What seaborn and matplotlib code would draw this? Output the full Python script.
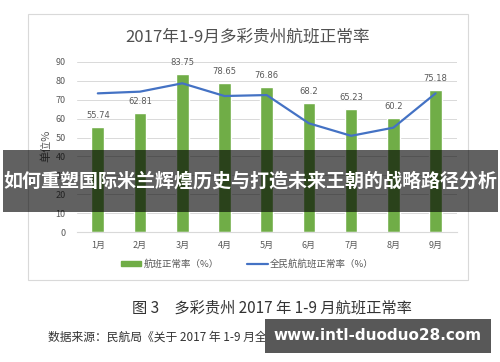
import matplotlib
matplotlib.use("Agg")
import matplotlib.pyplot as plt
import matplotlib.patches as mpatches
from matplotlib.lines import Line2D
import seaborn as sns
import pandas as pd

months = ["1月", "2月", "3月", "4月", "5月", "6月", "7月", "8月", "9月"]
guizhou = [55.74, 62.81, 83.75, 78.65, 76.86, 68.2, 65.23, 60.2, 75.18]
national = [73.3, 74.2, 78.6, 71.9, 72.4, 57.5, 50.9, 55.2, 73.3]
yticks = [0, 10, 20, 30, 40, 50, 60, 70, 80, 90]

title = "2017年1-9月多彩贵州航班正常率"
ylabel = "单位%"
legend_bar = "航班正常率（%）"
legend_line = "全民航航班正常率（%）"
caption = "图 3　多彩贵州 2017 年 1-9 月航班正常率"
source = "数据来源：民航局《关于 2017 年 1-9 月全国航班正常情况的通报》"
banner = "如何重塑国际米兰辉煌历史与打造未来王朝的战略路径分析"
watermark = "www.intl-duoduo28.com"

sns.set_style("white")
plt.rcParams['font.family'] = ['Noto Sans CJK SC', 'DejaVu Sans']

GREEN = "#70ad47"
BLUE = "#4472c4"
GRAY = "#595959"

W, H = 500, 362
fig = plt.figure(figsize=(W / 100, H / 100), dpi=100)
fig.patch.set_facecolor("white")

def fx(px):
    return px / W

def fy(py):
    return 1 - py / H

# chart frame
frame = mpatches.Rectangle((fx(28), fy(280)), fx(468) - fx(28), fy(14) - fy(280),
                           transform=fig.transFigure, facecolor="white",
                           edgecolor="#d9d9d9", linewidth=0.8, zorder=0)
fig.add_artist(frame)

ax = fig.add_axes([fx(76.7), fy(232.3), fx(456.7) - fx(76.7), fy(61.7) - fy(232.3)])
ax.set_facecolor("none")

df = pd.DataFrame({"month": months, "guizhou": guizhou, "national": national})
sns.barplot(data=df, x="month", y="guizhou", color=GREEN, width=0.3,
            saturation=1, ax=ax, zorder=2)
sns.lineplot(data=df, x="month", y="national", color=BLUE, linewidth=1.6,
             sort=False, ax=ax, zorder=3)

for cont in ax.containers:
    ax.bar_label(cont, labels=[f"{v:g}" for v in guizhou], padding=5,
                 fontsize=6, color=GRAY, family=['DejaVu Sans'])

ax.set_ylim(0, 90)
ax.set_xlim(-0.5, 8.5)
ax.set_yticks(yticks)
ax.yaxis.grid(True, color="#d9d9d9", linewidth=0.7)
ax.set_axisbelow(True)
for s in ["top", "right", "left"]:
    ax.spines[s].set_visible(False)
ax.spines["bottom"].set_color("#d9d9d9")
ax.spines["bottom"].set_linewidth(0.8)
ax.tick_params(axis="both", length=0, labelsize=6.5, labelcolor=GRAY)
ax.tick_params(axis="y", pad=8)
ax.tick_params(axis="x", pad=6)
ax.set_xlabel("")
ax.set_ylabel("")

fig.text(fx(46), fy(146), ylabel, rotation=90, ha="center", va="center",
         fontsize=8, color=GRAY)
fig.text(fx(248), fy(37), title, ha="center", va="center", fontsize=12,
         color="#505050")

handles = [mpatches.Patch(color=GREEN), Line2D([0], [0], color=BLUE, lw=1.6)]
fig.legend(handles, [legend_bar, legend_line], loc="center",
           bbox_to_anchor=(fx(247), fy(264)), ncol=2, frameon=False,
           fontsize=6.8, labelcolor=GRAY, handlelength=2.2, handleheight=0.5,
           handletextpad=0.2, columnspacing=3.0)

fig.text(fx(272), fy(308), caption, ha="center", va="center", fontsize=11,
         color="#333333")
fig.text(fx(48), fy(337), source, ha="left", va="center", fontsize=8.5,
         color="#333333")

# dark overlays
ban = mpatches.Rectangle((fx(3), fy(211.5)), fx(498) - fx(3), fy(150) - fy(211.5),
                         transform=fig.transFigure, facecolor="black",
                         alpha=0.62, edgecolor="none", zorder=10)
fig.add_artist(ban)
fig.text(fx(250), fy(181), banner, ha="center", va="center", fontsize=13.7,
         fontweight="bold", color="white", zorder=11)

wm = mpatches.Rectangle((fx(265), fy(352.5)), fx(491) - fx(265), fy(319) - fy(352.5),
                        transform=fig.transFigure, facecolor="#585858",
                        edgecolor="none", zorder=10)
fig.add_artist(wm)
fig.text(fx(378), fy(335), watermark, ha="center", va="center", fontsize=11,
         fontweight="bold", color="white", zorder=11, family=['DejaVu Sans'])

fig.savefig("out.png", dpi=100)
